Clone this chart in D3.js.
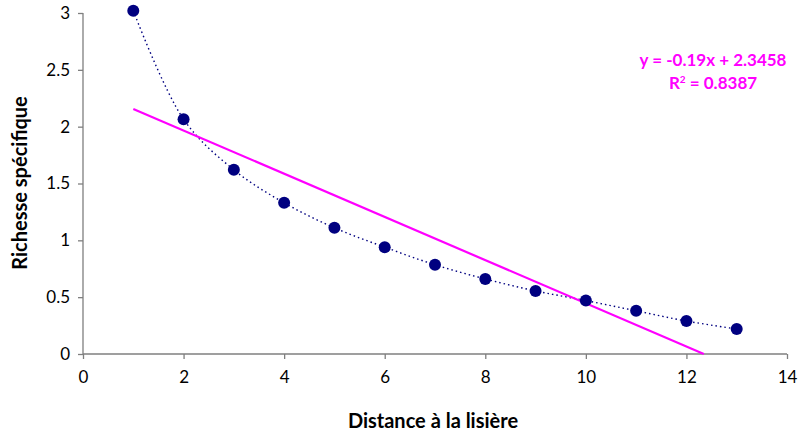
<!DOCTYPE html>
<html><head><meta charset="utf-8">
<script src="https://cdn.jsdelivr.net/npm/d3@7"></script>
<style>body{margin:0;background:#fff}svg{display:block}</style>
</head><body>
<svg id="c" width="798" height="434"></svg>
<script>
const distances = [1,2,3,4,5,6,7,8,9,10,11,12,13];
const richesse = [3.02,2.065,1.62,1.33,1.11,0.94,0.785,0.66,0.555,0.47,0.38,0.29,0.22];
const xTicks = [0,2,4,6,8,10,12,14];
const yTicks = [0,0.5,1,1.5,2,2.5,3];
const slope = -0.19, intercept = 2.3458, r2 = 0.8387;
const xTitle = "Distance à la lisière";
const yTitle = "Richesse spécifique";

const svg = d3.select("#c");
const font = "Lato, 'Open Sans', sans-serif";
const x = d3.scaleLinear().domain([0,14]).range([83,787]);
const y = d3.scaleLinear().domain([0,3]).range([354,13]);

const ax = svg.append("g").attr("transform","translate(0,354)")
  .call(d3.axisBottom(x).tickValues(xTicks).tickSize(5).tickPadding(12).tickFormat(d3.format("d")));
const ay = svg.append("g").attr("transform","translate(83,0)")
  .call(d3.axisLeft(y).tickValues(yTicks).tickSize(5).tickPadding(8).tickFormat(d=>String(d)));
[ax,ay].forEach(g=>{
  g.selectAll("path,line").attr("stroke","#7f7f7f").attr("stroke-width",1.3);
  g.selectAll("text").attr("font-family",font).attr("font-size",17).attr("fill","#000");
});
ax.select(".domain").attr("d","M83,0H787");
ay.select(".domain").attr("d","M0,13V354");

// dotted connecting curve
const line = d3.line().x((d,i)=>x(distances[i])).y(d=>y(d)).curve(d3.curveCatmullRom.alpha(0.5));
svg.append("path").attr("d", line(richesse)).attr("fill","none")
  .attr("stroke","#000080").attr("stroke-width",1.4).attr("stroke-dasharray","1.5,3");

// trend line
const x0 = distances[0], x1 = -intercept/slope;
svg.append("line").attr("x1",x(x0)).attr("y1",y(slope*x0+intercept))
  .attr("x2",x(x1)).attr("y2",y(slope*x1+intercept))
  .attr("stroke","#ff00ff").attr("stroke-width",2.2);

svg.append("g").selectAll("circle").data(richesse).join("circle")
  .attr("cx",(d,i)=>x(distances[i])).attr("cy",d=>y(d)).attr("r",6).attr("fill","#000080");

// equation
const eq = svg.append("g").attr("font-family",font).attr("font-weight","bold").attr("font-size",17).attr("fill","#ff00ff").attr("text-anchor","middle");
eq.append("text").attr("x",713).attr("y",66).text(`y = ${slope}x + ${intercept}`);
const t2 = eq.append("text").attr("x",713).attr("y",89);
t2.append("tspan").text("R");
t2.append("tspan").attr("font-size",10).attr("dy",-6).text("2");
t2.append("tspan").attr("dy",6).text(` = ${r2}`);

svg.append("text").attr("x",433).attr("y",428).attr("text-anchor","middle")
  .attr("font-family",font).attr("font-weight","bold").attr("font-size",20).text(xTitle);
svg.append("text").attr("transform","translate(27,183) rotate(-90)").attr("text-anchor","middle")
  .attr("font-family",font).attr("font-weight","bold").attr("font-size",20).text(yTitle);
</script>
</body></html>
